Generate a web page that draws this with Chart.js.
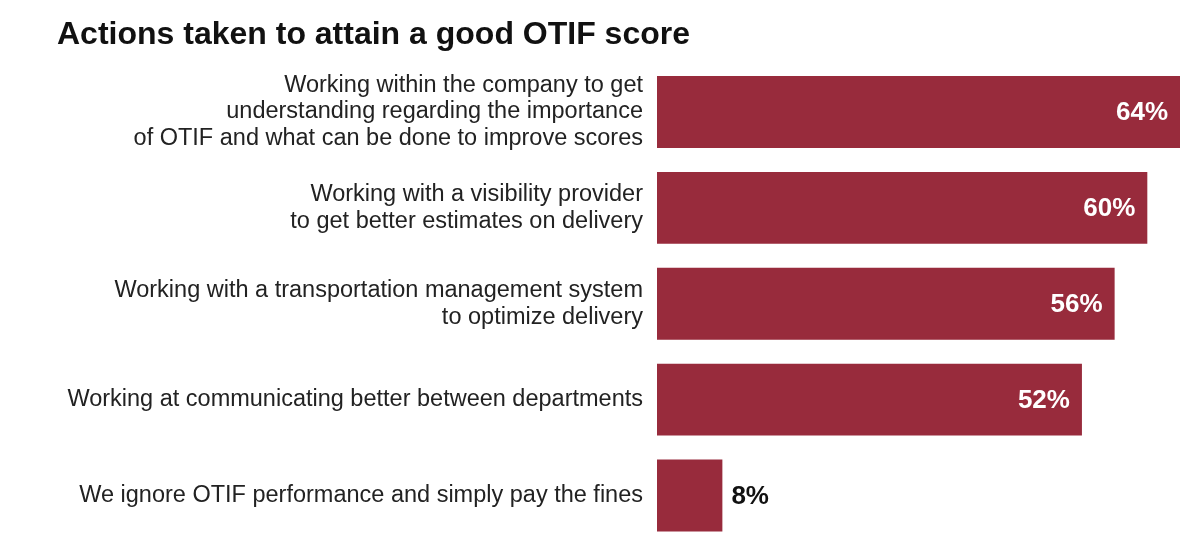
<!DOCTYPE html>
<html>
<head>
<meta charset="utf-8">
<script src="https://cdn.jsdelivr.net/npm/chart.js@4"></script>
<style>
  html, body { margin: 0; padding: 0; background: #fff; }
  #wrap { width: 1200px; height: 560px; }
</style>
</head>
<body>
<div id="wrap"><canvas id="bar-chart" width="1200" height="560"></canvas></div>
<script>
// Chart data
const chartTitle = 'Actions taken to attain a good OTIF score';
const categories = [
  ['Working within the company to get', 'understanding regarding the importance', 'of OTIF and what can be done to improve scores'],
  ['Working with a visibility provider', 'to get better estimates on delivery'],
  ['Working with a transportation management system', 'to optimize delivery'],
  'Working at communicating better between departments',
  'We ignore OTIF performance and simply pay the fines'
];
const shares = [64, 60, 56, 52, 8];

const barColor = '#982b3c';
const fontFamily = '"Liberation Sans", Arial, sans-serif';

// Draws the percent inside each bar, or just after it when the bar is short
const valueLabels = {
  id: 'valueLabels',
  afterDatasetsDraw(chart) {
    const ctx = chart.ctx;
    const meta = chart.getDatasetMeta(0);
    ctx.save();
    ctx.font = 'bold 26px ' + fontFamily;
    ctx.textBaseline = 'middle';
    meta.data.forEach((bar, i) => {
      const text = shares[i] + '%';
      const w = ctx.measureText(text).width;
      const barLen = bar.x - bar.base;
      if (barLen > w + 40) {
        ctx.fillStyle = '#fff';
        ctx.textAlign = 'right';
        ctx.fillText(text, bar.x - 12, bar.y + 1);
      } else {
        ctx.fillStyle = '#111';
        ctx.textAlign = 'left';
        ctx.fillText(text, bar.x + 9, bar.y + 1);
      }
    });
    ctx.restore();
  }
};

new Chart(document.getElementById('bar-chart'), {
  type: 'bar',
  data: {
    labels: categories,
    datasets: [{
      data: shares,
      backgroundColor: barColor,
      borderWidth: 0,
      categoryPercentage: 1,
      barPercentage: 0.75
    }]
  },
  options: {
    indexAxis: 'y',
    responsive: false,
    animation: false,
    layout: { padding: { left: 57, right: 20, top: 0, bottom: 16.5 } },
    plugins: {
      legend: { display: false },
      tooltip: { enabled: false },
      title: {
        display: true,
        text: chartTitle,
        align: 'start',
        color: '#111',
        font: { family: fontFamily, size: 32, weight: 'bold', lineHeight: 1.2 },
        padding: { top: 15.5, bottom: 10.1 }
      }
    },
    scales: {
      x: {
        display: false,
        min: 0,
        max: 64
      },
      y: {
        border: { display: false },
        grid: { display: false, drawTicks: false },
        ticks: {
          color: '#222',
          padding: 14,
          font: { family: fontFamily, size: 23.5, lineHeight: 1.13 }
        },
        afterFit(scale) {
          // fixed label column, and no extra room for multi-line first/last labels
          scale.width = 600;
          scale.paddingTop = 0;
          scale.paddingBottom = 0;
        }
      }
    }
  },
  plugins: [valueLabels]
});
</script>
</body>
</html>
